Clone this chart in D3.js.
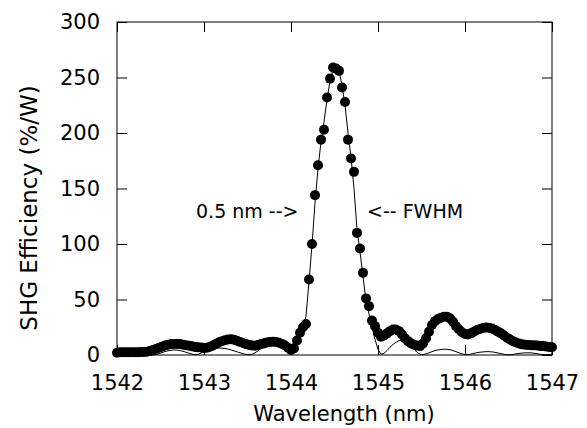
<!DOCTYPE html>
<html>
<head>
<meta charset="utf-8">
<script src="https://cdn.jsdelivr.net/npm/d3@7"></script>
<style>
  html, body { margin: 0; padding: 0; background: #fff; }
  svg { display: block; font-family: 'DejaVu Sans', sans-serif; }
</style>
</head>
<body>
<div id="chart"></div>
<script>
// scan from 1542 to 1547 nm, 146 evenly spaced wavelengths
const scanStart = 1542
const scanEnd = 1547
const scanPoints = 146

// measured SHG efficiency (%/W), one value per scan wavelength
const measured = [
  2, 2.5, 2.5, 2.5, 2.5, 2.5, 2.5, 2.5, 2.6, 2.8,
  3, 3.5, 4.5, 5.5, 6.5, 7.5, 8.5, 9.3, 9.8, 10,
  10, 9.8, 9.3, 8.8, 8.3, 7.8, 7.3, 7, 6.7, 6.4,
  6.5, 7.5, 8.5, 10, 11.5, 12.5, 13.3, 14, 14.2, 13.8,
  12.8, 11.8, 10.8, 9.8, 9, 8.5, 8.4, 9, 9.8, 10.5,
  11.2, 11.8, 12, 11.7, 11, 10, 8.5, 6.5, 4.5, 6,
  13, 20, 25, 28, 68, 100, 144, 171, 194, 203,
  232, 249, 259, 258, 256, 241, 228, 194, 177, 165,
  110, 96, 74, 51, 44, 31, 26, 20, 16.5, 17.5,
  19.5, 21.5, 23, 23, 21.5, 18.5, 15, 12.5, 10.5, 9.3,
  8.5, 8, 10.5, 15, 21, 27, 30.5, 32.5, 33.5, 34.5,
  34.5, 33, 30, 26, 23, 20.5, 19, 18.5, 19.5, 21,
  22.5, 23.5, 24.3, 24.7, 24.5, 23.8, 22.5, 21, 19.5, 17.5,
  15.5, 14, 12.5, 11.2, 10.3, 9.6, 9.3, 9, 8.8, 8.7,
  8.5, 8.2, 8, 7.7, 7.3, 7,
]

// theoretical curve (%/W) at the same wavelengths
const theory = [
  0.4, 0.6, 0.7, 0.6, 0.4, 0.2, 0.1, 0.1, 0.2, 0.3,
  0.2, 0.1, 0.1, 0.3, 1.2, 2.2, 3.1, 3.8, 4.3, 4.5,
  4.4, 4, 3.3, 2.5, 1.6, 0.8, 0.3, 0.5, 1.8, 3.2,
  4.4, 5.3, 5.9, 6.2, 6.3, 6.2, 5.9, 5.3, 4.6, 3.8,
  2.9, 2, 1.2, 0.5, 0.1, 0.6, 2, 3.8, 5.8, 7.8,
  9.5, 10.8, 11.5, 11.5, 10.8, 9.3, 6, 2.5, 0.5, 4.5,
  11, 18, 24, 35, 66, 99, 137, 168, 192, 210,
  230, 247, 257, 259, 256, 243, 225, 200, 178, 150,
  113, 93, 71, 48, 37, 25, 14, 5, 0.8, 1.5,
  4, 7, 9.5, 11.5, 13, 13.5, 13, 11, 8.5, 5.5,
  2.5, 0.7, 0.3, 1, 2, 3, 4, 4.6, 5, 5.2,
  5.1, 4.8, 4, 3, 2, 1, 0.4, 0.3, 0.8, 1.5,
  2.1, 2.5, 2.8, 3, 3, 2.8, 2.4, 1.8, 1.2, 0.6,
  0.2, 0.2, 0.5, 1, 1.4, 1.7, 1.9, 2, 1.9, 1.6,
  1.2, 0.7, 0.3, 0.2, 0.4, 0.7,
]

const xTicks = [1542, 1543, 1544, 1545, 1546, 1547]
const yTicks = [0, 50, 100, 150, 200, 250, 300]

const width = 587
const height = 428
const margin = { top: 22, right: 35, bottom: 73, left: 117 }

const wavelengths = d3.range(scanPoints)
  .map(i => scanStart + i * (scanEnd - scanStart) / (scanPoints - 1))
const dots = measured.map((v, i) => ({ x: wavelengths[i], y: v }))
const curve = theory.map((v, i) => ({ x: wavelengths[i], y: v }))

const x = d3.scaleLinear()
  .domain([scanStart, scanEnd])
  .range([margin.left, width - margin.right])
const y = d3.scaleLinear()
  .domain([0, 300])
  .range([height - margin.bottom, margin.top])

const svg = d3.select('#chart')
  .append('svg')
  .attr('width', width)
  .attr('height', height)

const plotW = x.range()[1] - x.range()[0]
const plotH = y.range()[0] - y.range()[1]

// inward ticks on all four sides
const tickLen = 10
const styleAxis = g => {
  g.select('.domain').remove()
  g.selectAll('.tick line').attr('stroke', '#000')
  g.selectAll('.tick text')
    .attr('fill', '#000')
    .attr('font-family', 'DejaVu Sans, sans-serif')
    .attr('font-size', 21)
}

svg.append('g')
  .attr('transform', `translate(0,${y(0)})`)
  .call(d3.axisBottom(x).tickValues(xTicks).tickFormat(d3.format('d')).tickSize(-tickLen).tickPadding(20))
  .call(styleAxis)

svg.append('g')
  .attr('transform', `translate(0,${y(300)})`)
  .call(d3.axisTop(x).tickValues(xTicks).tickFormat('').tickSize(-tickLen))
  .call(styleAxis)

svg.append('g')
  .attr('transform', `translate(${x(scanStart)},0)`)
  .call(d3.axisLeft(y).tickValues(yTicks).tickSize(-tickLen).tickPadding(17))
  .call(styleAxis)

svg.append('g')
  .attr('transform', `translate(${x(scanEnd)},0)`)
  .call(d3.axisRight(y).tickValues(yTicks).tickFormat('').tickSize(-tickLen))
  .call(styleAxis)

svg.append('rect')
  .attr('x', x(scanStart))
  .attr('y', y(300))
  .attr('width', plotW)
  .attr('height', plotH)
  .attr('fill', 'none')
  .attr('stroke', '#000')
  .attr('stroke-width', 1)

svg.append('path')
  .datum(curve)
  .attr('fill', 'none')
  .attr('stroke', '#000')
  .attr('stroke-width', 1)
  .attr('d', d3.line().x(d => x(d.x)).y(d => y(d.y)))

svg.append('g')
  .selectAll('circle')
  .data(dots)
  .join('circle')
  .attr('cx', d => x(d.x))
  .attr('cy', d => y(d.y))
  .attr('r', 5)
  .attr('fill', '#000')

// annotations
svg.append('text')
  .attr('x', 196)
  .attr('y', 218)
  .attr('font-size', 19)
  .text('0.5 nm -->')

svg.append('text')
  .attr('x', 367)
  .attr('y', 218)
  .attr('font-size', 19)
  .text('<-- FWHM')

// axis titles
svg.append('text')
  .attr('x', 344)
  .attr('y', 421)
  .attr('text-anchor', 'middle')
  .attr('font-size', 21)
  .text('Wavelength (nm)')

svg.append('text')
  .attr('transform', 'translate(37,208) rotate(-90)')
  .attr('text-anchor', 'middle')
  .attr('font-size', 23)
  .text('SHG Efficiency (%/W)')
</script>
</body>
</html>
